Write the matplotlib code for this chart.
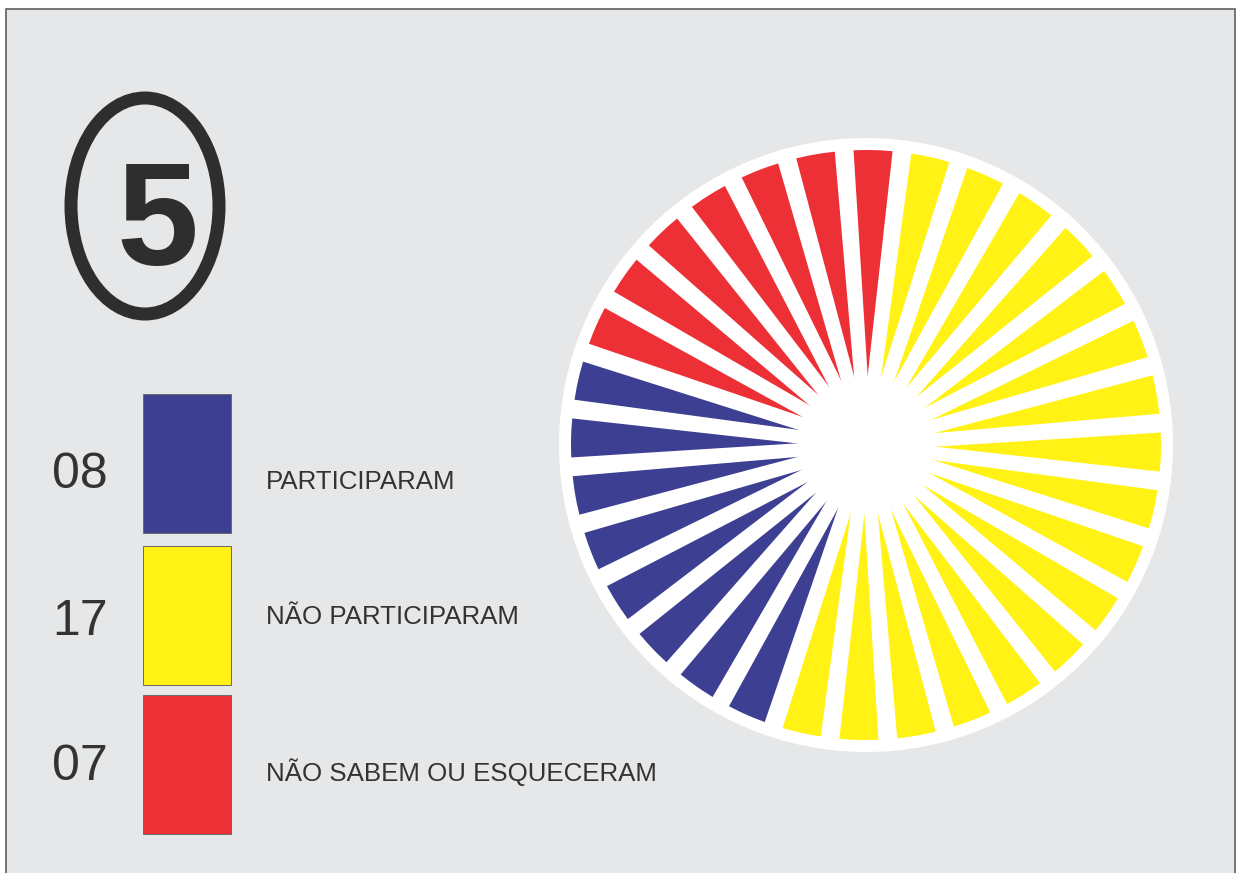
import matplotlib
matplotlib.use("Agg")
import matplotlib.pyplot as plt
from matplotlib.patches import Rectangle, Circle, Ellipse, Polygon
import numpy as np

# ---- data ----
categories = ["PARTICIPARAM", "NÃO PARTICIPARAM", "NÃO SABEM OU ESQUECERAM"]
counts = [8, 17, 7]
colors = ["#3d3f92", "#fff214", "#ec3035"]
pie_order = [1, 0, 2]          # yellow, blue, red going clockwise from top
question_number = "5"

W, H = 1238, 873
def Y(p):
    return H - p

fig = plt.figure(figsize=(W / 100, H / 100), dpi=100)
fig.patch.set_facecolor("white")
ax = fig.add_axes([0, 0, 1, 1])

px = 72 / 100.0  # pixels -> points

# page background with border
ax.add_patch(Rectangle((6, Y(880)), 1229, 871, facecolor="#e6e7e8",
                       edgecolor="#5a5a5a", linewidth=1.6 * px, zorder=0))

# number in ellipse
ax.add_patch(Ellipse((145, Y(206)), 148, 216, facecolor="none",
                     edgecolor="#2e2e2e", linewidth=13 * px, zorder=2))
ax.text(157, Y(265), question_number, ha="center", va="baseline",
        fontsize=106, fontweight="bold", color="#2e2e2e",
        family=["Liberation Sans", "DejaVu Sans"], zorder=3)

# legend
box_tops = [394, 546, 695]
box_bottoms = [533, 685, 834]
num_baselines = [488, 635, 780]
label_baselines = [489, 624, 781]
for i, cat in enumerate(categories):
    ax.add_patch(Rectangle((143, Y(box_bottoms[i])), 88, box_bottoms[i] - box_tops[i],
                           facecolor=colors[i], edgecolor="#6a6a6a",
                           linewidth=1.0 * px, zorder=2))
    ax.text(52, Y(num_baselines[i]), f"{counts[i]:02d}", ha="left", va="baseline",
            fontsize=36, color="#333333", family=["Liberation Sans", "DejaVu Sans"])
    ax.text(266, Y(label_baselines[i]), cat, ha="left", va="baseline",
            fontsize=18.6, color="#333333", family=["Liberation Sans", "DejaVu Sans"])

# sunburst pie: one slice per respondent
slice_colors = []
for k in pie_order:
    slice_colors += [colors[k]] * counts[k]
slice_sizes = [1] * len(slice_colors)

cx, cy = 866, Y(445)
ax.add_patch(Circle((cx, cy), 307, facecolor="white", edgecolor="none", zorder=1))
wedges, _ = ax.pie(slice_sizes, colors=slice_colors, startangle=83,
                   counterclock=False, radius=295, center=(cx, cy),
                   wedgeprops=dict(linewidth=0, zorder=2), frame=True)
# white separating gaps, slightly tapered toward the centre
w_in, w_out, r_out = 12.0, 19.0, 303.0
for w in wedges:
    t = np.deg2rad(w.theta1)
    u = np.array([np.cos(t), np.sin(t)])
    n = np.array([-np.sin(t), np.cos(t)])
    c = np.array([cx, cy])
    pts = [c + n * w_in / 2, c + u * r_out + n * w_out / 2,
           c + u * r_out - n * w_out / 2, c - n * w_in / 2]
    ax.add_patch(Polygon(pts, closed=True, facecolor="white", edgecolor="none", zorder=3))
ax.add_patch(Circle((cx, cy), 68, facecolor="white", edgecolor="none", zorder=4))

ax.set_xlim(0, W)
ax.set_ylim(0, H)
ax.set_aspect("auto")
ax.axis("off")

fig.savefig("out.png", dpi=100, facecolor="white")
